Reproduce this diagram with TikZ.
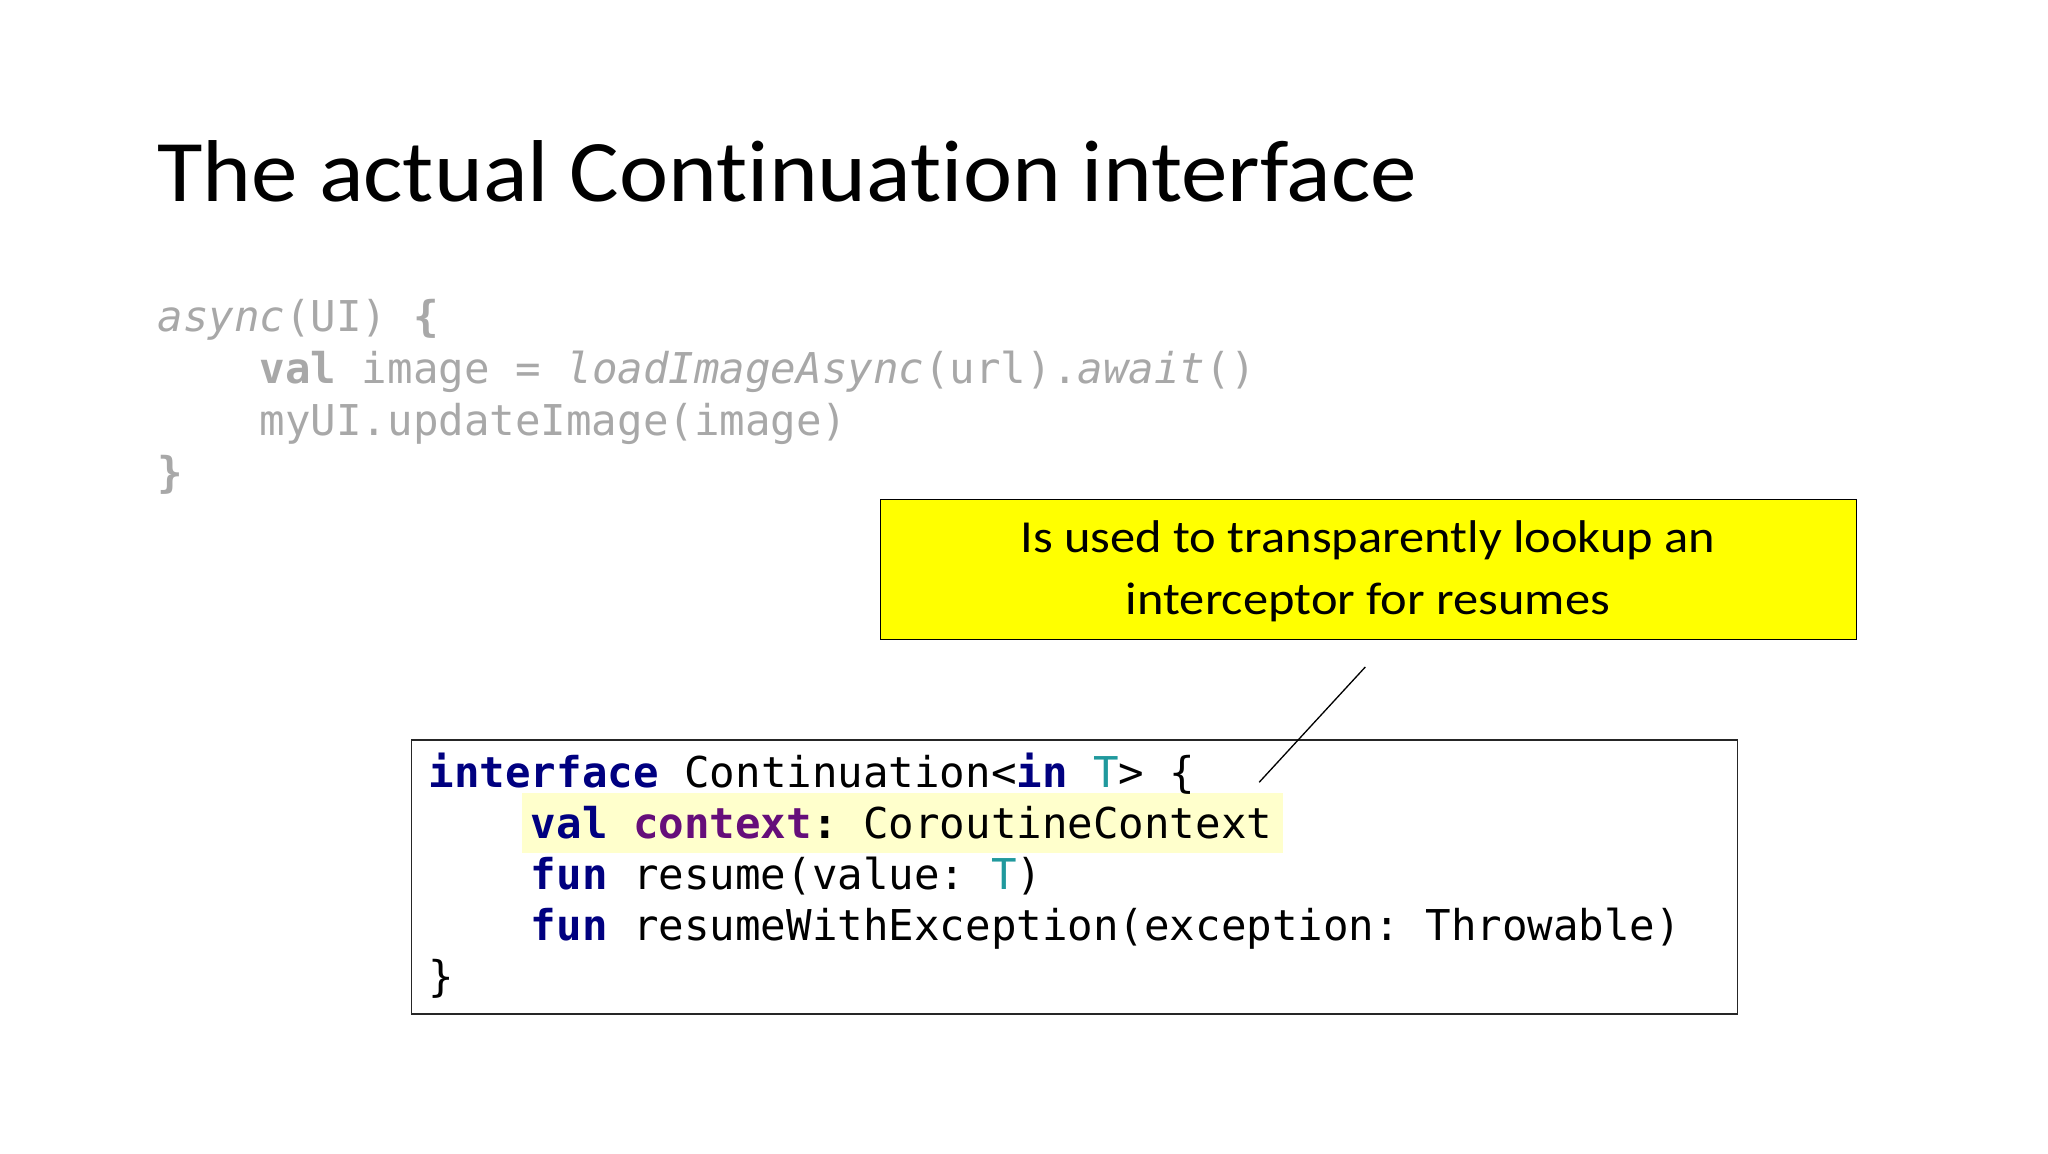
\documentclass[tikz,border=0pt]{standalone}
\usepackage{fontspec}
\setmainfont[Ligatures=NoCommon]{Carlito}
\setmonofont{DejaVu Sans Mono}
\definecolor{kw}{HTML}{000080}
\definecolor{tp}{HTML}{20999D}
\definecolor{ctx}{HTML}{660E7A}
\definecolor{gr}{HTML}{A8A8A8}
\definecolor{hl}{HTML}{FFFFCC}
\definecolor{note}{HTML}{FFFF00}
\tikzset{
  code/.style={anchor=base west, inner sep=0pt, font=\ttfamily\fontsize{32.4}{39}\selectfont},
  gcode/.style={code, text=gr},
  notebox/.style={draw=black, fill=note, line width=1pt},
  codebox/.style={draw=black!85, line width=1.3pt}
}
\begin{document}
\begin{tikzpicture}[x=1pt,y=-1pt]
\useasboundingbox (0,0) rectangle (1563,880);
\node[anchor=base west, inner sep=0pt, font=\fontsize{67}{70}\selectfont] (title) at (120,154) {\scalebox{1.06}[1]{The actual Continuation interface}};
\node[gcode] (g1) at (120,253) {\textit{async}(UI) \textbf{\{}};
\node[gcode] (g2) at (120,293) {\hphantom{xxxx}\textbf{val} image = \textit{loadImageAsync}(url).\textit{await}()};
\node[gcode] (g3) at (120,332) {\hphantom{xxxx}myUI.updateImage(image)};
\node[gcode] (g4) at (120,372) {\textbf{\}}};
\draw[notebox] (672,381) rectangle (1417,488);
\node[align=center, font=\fontsize{35}{47}\selectfont, inner sep=0pt] (note) at (1044,436) {\scalebox{1.1}[1]{Is used to transparently lookup an}\\\scalebox{1.1}[1]{interceptor for resumes}};
\fill[hl] (398,605) rectangle (979,651);
\draw[codebox] (314,565) rectangle (1326,774);
\node[code] (c1) at (327,601) {\textcolor{kw}{\textbf{interface}} Continuation<\textcolor{kw}{\textbf{in}} \textcolor{tp}{T}> \{};
\node[code] (c2) at (327,640) {\hphantom{xxxx}\textcolor{kw}{\textbf{val}} \textcolor{ctx}{\textbf{context}}\textbf{:} CoroutineContext};
\node[code] (c3) at (327,679) {\hphantom{xxxx}\textcolor{kw}{\textbf{fun}} resume(value: \textcolor{tp}{T})};
\node[code] (c4) at (327,718) {\hphantom{xxxx}\textcolor{kw}{\textbf{fun}} resumeWithException(exception: Throwable)};
\node[code] (c5) at (327,757) {\}};
\coordinate (lt) at (1042,509);
\coordinate (lb) at (961,597);
\draw[line width=1pt] (lt) -- (lb);
\end{tikzpicture}
\end{document}
